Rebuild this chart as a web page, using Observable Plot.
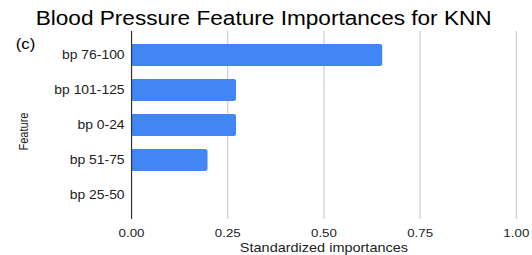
<!DOCTYPE html>
<html>
<head>
<meta charset="utf-8">
<script src="https://cdn.jsdelivr.net/npm/d3@7"></script>
<script src="https://cdn.jsdelivr.net/npm/@observablehq/plot@0.6"></script>
<style>
  html, body { margin: 0; padding: 0; background: #fff; }
  #wrap { position: relative; width: 459px; height: 255px; transform: scaleX(1.159); transform-origin: 0 0; font-family: "Liberation Sans", Arial, sans-serif; }
  #title { position: absolute; left: 0; top: 8.5px; width: 455px; text-align: center; font-size: 19.5px; line-height: 1; color: #000; }
  #tag { position: absolute; left: 13.5px; top: 37px; font-size: 14.5px; line-height: 1; color: #000; }
  #ylab { position: absolute; left: -9.3px; top: 125.5px; width: 60px; text-align: center; font-size: 11px; line-height: 1; color: #222; transform: rotate(-90deg); transform-origin: 50% 50%; }
  #chart { position: absolute; left: 0; top: 0; }
</style>
</head>
<body>
<div id="wrap">
  <div id="chart"></div>
  <div id="title"></div>
  <div id="tag"></div>
  <div id="ylab"></div>
</div>
<script>
const titleText = "Blood Pressure Feature Importances for KNN";
const tagText = "(c)";
const features = ["bp 76-100", "bp 101-125", "bp 0-24", "bp 51-75", "bp 25-50"];
const importances = [0.653, 0.273, 0.273, 0.199, 0];
const xTicks = [0, 0.25, 0.5, 0.75, 1];
const xLabel = "Standardized importances";
const yLabel = "Feature";

const data = features.map((f, i) => ({feature: f, value: importances[i]}));

document.getElementById("title").textContent = titleText;
document.getElementById("tag").textContent = tagText;
document.getElementById("ylab").textContent = yLabel;

const chart = Plot.plot({
  width: 459,
  height: 255,
  marginTop: 31,
  marginBottom: 36,
  marginLeft: 113,
  marginRight: 14,
  style: {fontFamily: "'Liberation Sans', Arial, sans-serif", background: "transparent", color: "#222"},
  x: {domain: [0, 1]},
  y: {domain: features, padding: 0.37},
  marks: [
    Plot.gridX(xTicks, {stroke: "#ccc", strokeOpacity: 1}),
    Plot.barX(data, {x: "value", y: "feature", fill: "#4285F4", rx: 2}),
    Plot.ruleX([0], {stroke: "#333", strokeWidth: 1}),
    Plot.axisX({ticks: xTicks, tickSize: 0, tickPadding: 9.5, tickFormat: d3.format(".2f"), fontSize: 11.5, label: null}),
    Plot.axisY({tickSize: 0, tickPadding: 6, fontSize: 12, label: null}),
    Plot.text([xLabel], {frameAnchor: "bottom", dy: 32, fontSize: 12.5, fill: "#222"})
  ]
});
document.getElementById("chart").appendChild(chart);
</script>
</body>
</html>
